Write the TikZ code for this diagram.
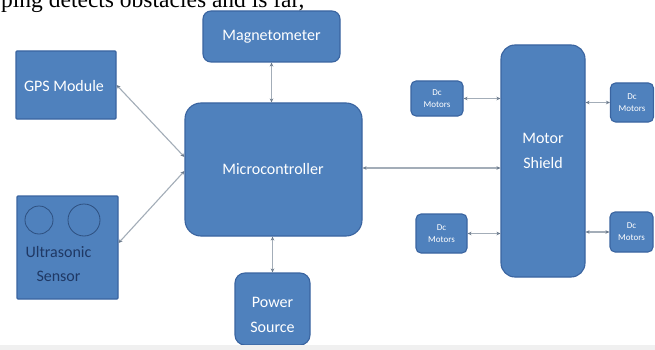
\documentclass[tikz,border=0pt]{standalone}
\usepackage{fontspec}
\setmainfont{Carlito}
\newfontfamily\serifface{Liberation Serif}
\usetikzlibrary{arrows.meta}
\definecolor{boxfill}{HTML}{4F81BD}
\definecolor{boxline}{HTML}{3A64A0}
\definecolor{linkgray}{HTML}{A3ADB8}
\definecolor{tipgray}{HTML}{6B7A8C}
\definecolor{navytext}{HTML}{1F3864}
\tikzset{
  blk/.style={draw=boxline, line width=1.1pt, fill=boxfill, text=white, align=center,
    inner sep=0pt, font=\fontsize{16}{25}\selectfont},
  dcm/.style={blk, font=\fontsize{9}{12}\selectfont},
  link/.style={draw=linkgray, line width=1.1pt,
    {Stealth[length=4pt,width=3.5pt,color=tipgray]}-{Stealth[length=4pt,width=3.5pt,color=tipgray]}},
  lbl/.style={text=white, align=center, inner sep=0pt, font=\fontsize{16}{25}\selectfont}
}
\begin{document}
\begin{tikzpicture}[x=1pt,y=-1pt]
\useasboundingbox (0,0) rectangle (655,350);
\clip (0,0) rectangle (655,350);
\fill[white] (0,0) rectangle (655,350);
% clipped running text at top
\node[anchor=base west, inner sep=0pt, font=\serifface\fontsize{23.5}{26}\selectfont] (toptext) at (1,8) {ping detects obstacles and is far,};
% boxes
\node[blk, rounded corners=8pt, minimum width=137pt, minimum height=51pt] (mag) at (271.5,36.5) {};
\node[lbl] (magt) at (271.5,37) {Magnetometer};
\node[blk, rounded corners=1pt, minimum width=100pt, minimum height=68pt] (gps) at (66,85) {};
\node[lbl] (gpst) at (64,86) {GPS Module};
\node[blk, rounded corners=1pt, minimum width=101pt, minimum height=103pt] (us) at (67.5,247.5) {};
\draw[draw=boxline!80!black, line width=0.8pt] (39,220) circle (14pt);
\draw[draw=boxline!80!black, line width=0.8pt] (84,220) circle (16pt);
\node[lbl, text=navytext, font=\fontsize{16}{24}\selectfont] (ust) at (58.5,264) {Ultrasonic\\Sensor};
\node[blk, rounded corners=16pt, minimum width=177pt, minimum height=133pt] (micro) at (273.5,169.5) {};
\node[lbl] (microt) at (273,169) {Microcontroller};
\node[blk, rounded corners=10pt, minimum width=75pt, minimum height=72pt] (power) at (272.5,309) {};
\node[lbl] (powert) at (272.5,314.5) {Power\\Source};
\node[blk, rounded corners=14pt, minimum width=84pt, minimum height=232pt] (shield) at (543,161) {};
\node[lbl] (shieldt) at (543,150.5) {Motor\\Shield};
\node[dcm, rounded corners=5pt, minimum width=52pt, minimum height=35pt] (dc1) at (437,98.5) {Dc\\Motors};
\node[dcm, rounded corners=5pt, minimum width=43pt, minimum height=39pt] (dc2) at (632,102.5) {Dc\\Motors};
\node[dcm, rounded corners=5pt, minimum width=51pt, minimum height=39pt] (dc3) at (441.5,233.5) {Dc\\Motors};
\node[dcm, rounded corners=5pt, minimum width=43pt, minimum height=40pt] (dc4) at (631.5,232) {Dc\\Motors};
% connectors
\draw[link] (mag.south) -- (mag.south |- micro.north);
\draw[link] (power.north) -- (power.north |- micro.south);
\draw[link] ([yshift=1.5pt]micro.east) -- ([yshift=1.5pt]micro.east -| shield.west);
\draw[link] (gps.east) -- ([yshift=12.5pt]micro.west);
\draw[link] ([yshift=4.5pt]us.east) -- ([yshift=-1.5pt]micro.west);
\draw[link] (dc1.east) -- (dc1.east -| shield.west);
\draw[link] (dc2.west) -- (dc2.west -| shield.east);
\draw[link] (dc3.east) -- (dc3.east -| shield.west);
\draw[link] (dc4.west) -- (dc4.west -| shield.east);
% faint bottom edge
\fill[black!6] (0,345) rectangle (655,350);
\end{tikzpicture}
\end{document}
